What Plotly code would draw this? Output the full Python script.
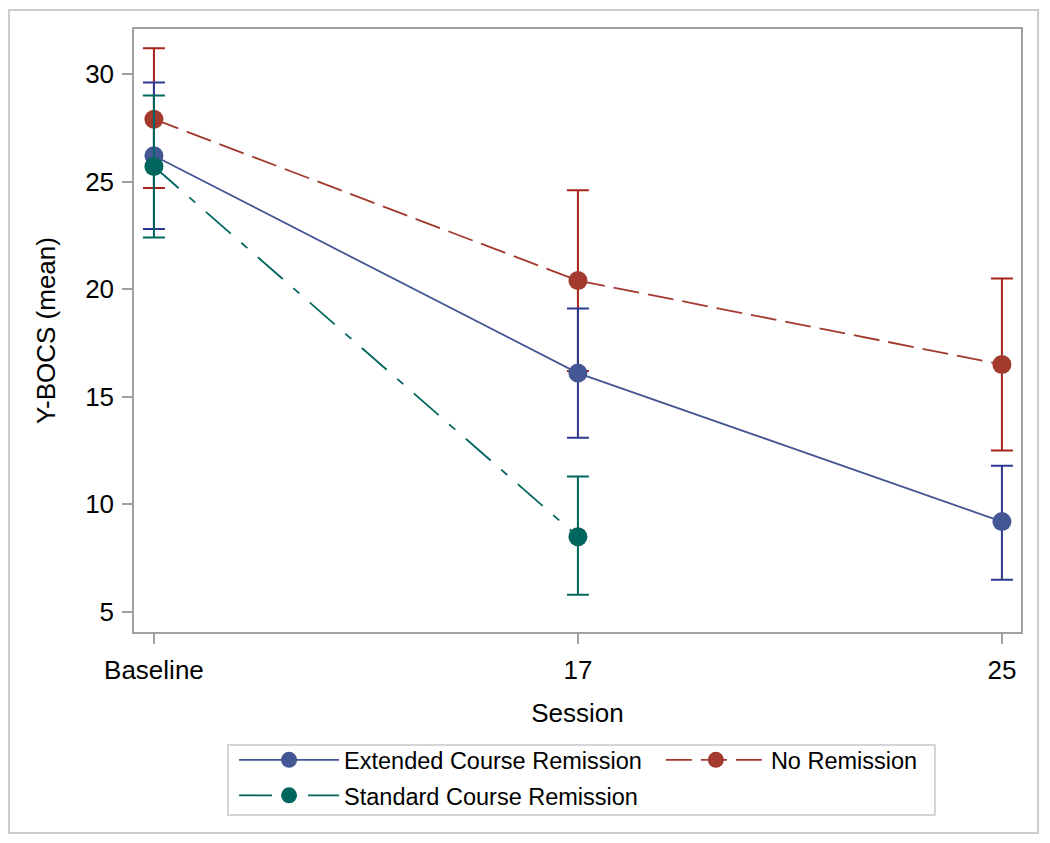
import plotly.graph_objects as go

sessions = ["Baseline", "17", "25"]

ext_mean = [26.2, 16.1, 9.2]
ext_upper = [29.6, 19.1, 11.8]
ext_lower = [22.8, 13.1, 6.5]

nor_mean = [27.9, 20.4, 16.5]
nor_upper = [31.2, 24.6, 20.5]
nor_lower = [24.7, 16.2, 12.5]

std_sessions = ["Baseline", "17"]
std_mean = [25.7, 8.5]
std_upper = [29.0, 11.3]
std_lower = [22.4, 5.8]

FONT = "Liberation Sans, Arial, sans-serif"

def trace(name, x, mean, upper, lower, line_color, err_color, dash, rank, legend):
    return go.Scatter(
        x=x, y=mean, name=name, mode="lines+markers", legendrank=rank,
        legend=legend, legendgroup=name,
        line=dict(color=line_color, width=1.8, dash=dash),
        marker=dict(color=line_color, size=19),
        error_y=dict(type="data", symmetric=False,
                     array=[u - m for u, m in zip(upper, mean)],
                     arrayminus=[m - l for m, l in zip(mean, lower)],
                     color=err_color, thickness=2, width=11),
    )

fig = go.Figure()
fig.add_trace(trace("No Remission", sessions, nor_mean, nor_upper, nor_lower,
                    "#A23A2E", "#A8231C", "26px,9px", 2, "legend2"))
fig.add_trace(trace("Extended Course Remission", sessions, ext_mean, ext_upper, ext_lower,
                    "#445694", "#2B3A8F", "solid", 1, "legend"))
fig.add_trace(trace("Standard Course Remission", std_sessions, std_mean, std_upper, std_lower,
                    "#01665E", "#01665E", "33px,14px,8px,14px", 3, "legend"))

leg_common = dict(xanchor="left", yanchor="top", borderwidth=0, bgcolor="rgba(0,0,0,0)",
                  font=dict(size=23.5), itemwidth=100, tracegroupgap=2,
                  orientation="v")

fig.update_layout(
    width=1042, height=835,
    margin=dict(l=126, r=29, t=21, b=211),
    paper_bgcolor="white", plot_bgcolor="white",
    font=dict(family=FONT, size=24, color="#000000"),
    showlegend=True,
    legend=dict(x=0.1128, y=-0.1758, **leg_common),
    legend2=dict(x=0.594, y=-0.1758, **leg_common),
    xaxis=dict(type="category", categoryorder="array", categoryarray=sessions,
               range=[-0.047, 2.045], showgrid=False, zeroline=False,
               showline=True, mirror=True, linecolor="#A0A0A0", linewidth=1.5,
               ticks="outside", ticklen=10, tickcolor="#A0A0A0", tickwidth=1.5,
               ticklabelstandoff=4,
               tickfont=dict(size=26), title=dict(text="Session", font=dict(size=26), standoff=20)),
    yaxis=dict(range=[4.07, 32.09], tickvals=[5, 10, 15, 20, 25, 30], showgrid=False,
               zeroline=False, showline=True, mirror=True, linecolor="#A0A0A0",
               linewidth=1.5, ticks="outside", ticklen=10, tickcolor="#A0A0A0",
               tickwidth=1.5, tickfont=dict(size=26), ticklabelstandoff=3,
               title=dict(text="Y-BOCS (mean)", font=dict(size=26), standoff=22)),
    shapes=[
        dict(type="rect", xref="paper", yref="paper",
             x0=-0.1409, x1=1.0192, y0=-0.3333, y1=1.0315,
             line=dict(color="#CCCCCC", width=2), fillcolor="rgba(0,0,0,0)", layer="below"),
        dict(type="rect", xref="paper", yref="paper",
             x0=0.106, x1=0.903, y0=-0.3035, y1=-0.1874,
             line=dict(color="#C8C8C8", width=1.5), fillcolor="rgba(0,0,0,0)", layer="below"),
    ],
)

fig.write_html("out.html")
